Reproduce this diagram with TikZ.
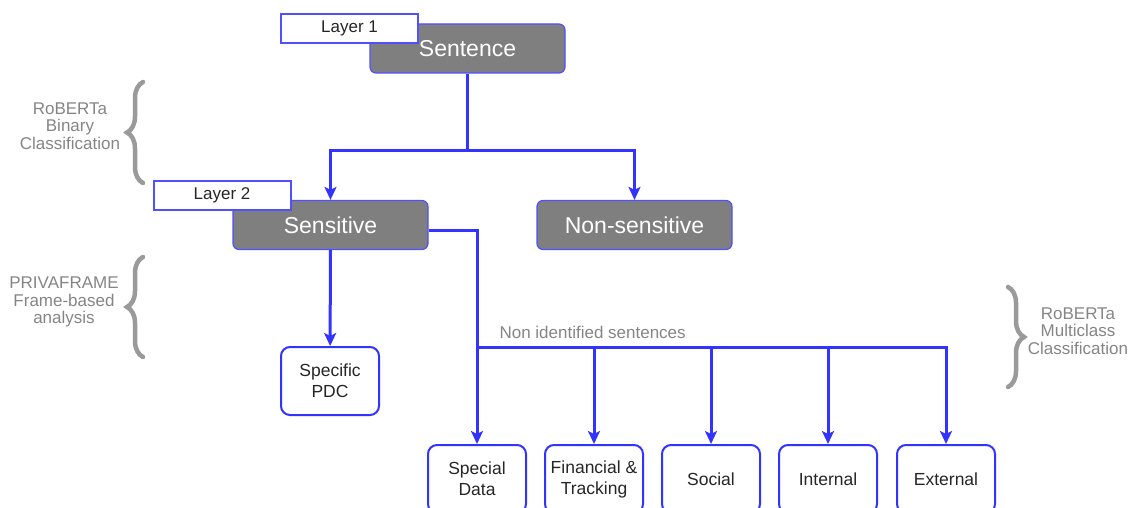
\documentclass[tikz,border=0pt]{standalone}
\usepackage{fontspec}
\setmainfont{Liberation Sans}
\usepackage{tikz}
\usetikzlibrary{positioning, arrows.meta, calc, decorations.pathreplacing}
\usepackage{xcolor}
\definecolor{lineblue}{HTML}{3333FF}
\definecolor{edgeblue}{HTML}{5050FF}
\definecolor{boxgray}{HTML}{7F7F7F}
\definecolor{notegray}{HTML}{858585}
\definecolor{bracegray}{HTML}{9A9A9A}
\tikzset{
    stage/.style={rectangle, rounded corners=6pt, draw=edgeblue, line width=1.2pt, fill=boxgray,
                  text=white, font=\fontsize{23}{26}\selectfont, minimum width=195pt, minimum height=49pt},
    layer/.style={rectangle, draw=edgeblue, line width=2pt, fill=white, text=black!85,
                  font=\fontsize{17}{20}\selectfont, minimum width=137pt, minimum height=29pt},
    leaf/.style={rectangle, rounded corners=9pt, draw=lineblue, line width=2pt, fill=white,
                 text=black!85, font=\fontsize{17.5}{21}\selectfont, align=center,
                 minimum width=98pt, minimum height=68pt},
    note/.style={text=notegray, font=\fontsize{17}{17.5}\selectfont, align=center},
    link/.style={draw=lineblue, line width=3pt},
    arr/.style={link, ->},
    brc/.style={draw=bracegray, line width=4.5pt, line cap=round,
                decorate, decoration={brace, amplitude=16pt}}
}

\begin{document}
\begin{tikzpicture}[x=1pt, y=-1pt, >={Stealth[length=13pt, width=12pt, inset=3pt]}]
  \useasboundingbox (0,0) rectangle (1131,508);

  \node[stage] (sent)    at (467.5,48.5) {Sentence};
  \node[stage] (sens)    at (330.5,225)  {Sensitive};
  \node[stage] (nonsens) at (634.5,225)  {Non-sensitive};
  \node[layer] (layerA)  at (349.5,28.5) {Layer 1};
  \node[layer] (layerB)  at (222,195.5)  {Layer 2};

  \node[leaf] (pdc)  at (330,381) {Specific\\PDC};
  \node[leaf] (spec) at (477,479) {Special\\Data};
  \node[leaf] (fin)  at (594,479) {Financial \&\\Tracking};
  \node[leaf] (soc)  at (711,479) {Social};
  \node[leaf] (int)  at (828,479) {Internal};
  \node[leaf] (ext)  at (946,479) {External};

  \coordinate (fork) at (467.5,150);
  \coordinate (bus)  at (477,347);

  \draw[link] (sent) -- (fork);
  \draw[arr] (fork) -| (sens);
  \draw[arr] (fork) -| (nonsens);
  \draw[arr] (sens) -- (pdc);
  \draw[arr] ($(sens.east)+(0,5)$) -| (spec);
  \foreach \n in {fin, soc, int, ext}
    \draw[arr] (bus) -| (\n);

  \node[note, anchor=south west] (nonid) at (496,342) {Non identified sentences};

  % braces with their labels
  \draw[brc] (143,183) -- (143,82);
  \draw[brc] (143,357) -- (143,257);
  \draw[brc] (1008,287) -- (1008,387);
  \node[note] (binary) at (70,126)   {RoBERTa\\Binary\\Classification};
  \node[note] (frame)  at (64,302)   {PRIVAFRAME\\Frame-based\\analysis};
  \node[note] (multi)  at (1078,331) {RoBERTa\\Multiclass\\Classification};
\end{tikzpicture}
\end{document}
